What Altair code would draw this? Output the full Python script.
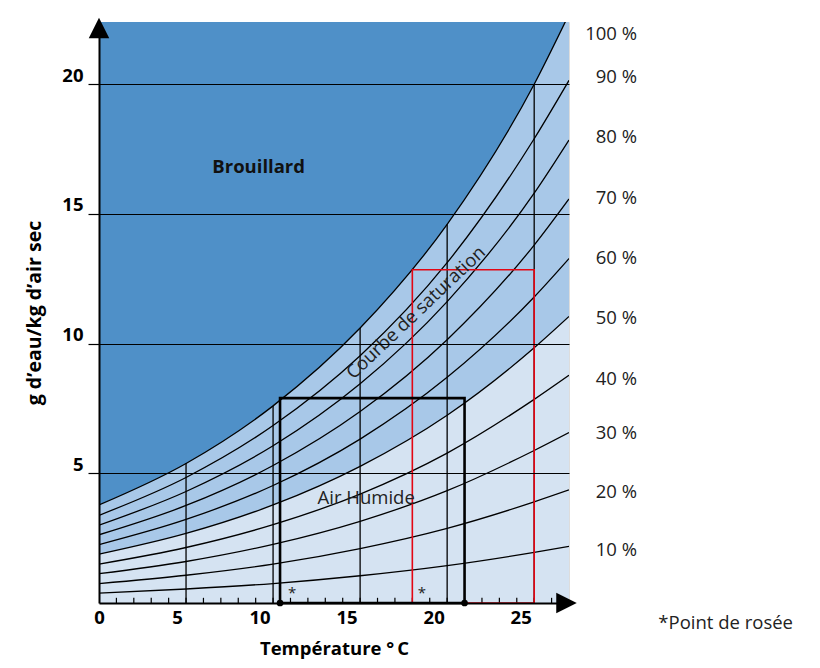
import altair as alt
import pandas as pd

# ---- data ----
temps = [0, 5, 10, 15, 20, 25, 27]
rh100 = [3.78, 5.38, 7.6, 10.6, 14.6, 20.0, 22.7]
rh90 = [3.38, 4.84, 6.84, 9.53, 13.12, 17.9, 20.15]
rh80 = [3.0, 4.3, 6.06, 8.45, 11.62, 15.8, 17.85]
rh70 = [2.63, 3.76, 5.3, 7.38, 10.15, 13.8, 15.58]
rh60 = [2.25, 3.22, 4.53, 6.32, 8.7, 11.8, 13.28]
rh50 = [1.88, 2.68, 3.78, 5.27, 7.24, 9.84, 11.05]
rh40 = [1.5, 2.14, 3.02, 4.2, 5.78, 7.85, 8.78]
rh30 = [1.13, 1.6, 2.26, 3.15, 4.33, 5.88, 6.57]
rh20 = [0.75, 1.07, 1.5, 2.1, 2.88, 3.9, 4.36]
rh10 = [0.38, 0.54, 0.75, 1.05, 1.44, 1.95, 2.18]

rh_levels = [100, 90, 80, 70, 60, 50, 40, 30, 20, 10]
rh_labels = ["100 %", "90 %", "80 %", "70 %", "60 %",
             "50 %", "40 %", "30 %", "20 %", "10 %"]
rh_label_y = [21.93, 20.27, 17.96, 15.6, 13.32, 11.0, 8.65, 6.56, 4.29, 2.05]

vert_t = [5, 10, 15, 20, 25]
vert_top = [5.4, 7.6, 10.6, 14.6, 20.0]

black_box = {"t0": 10.4, "t1": 21.0, "top": 7.9}
red_box = {"t0": 18.0, "t1": 25.0, "top": 12.85}
dew_dots_t = [10.4, 21.0]
stars_t = [11.1, 18.55]
stars_y = [0.38, 0.38]

minor_ticks = list(range(1, 27))
x_ticks = [0, 5, 10, 15, 20, 25]
y_ticks = [5, 10, 15, 20]
y_top = 22.4

DARK = "#4f90c8"
MED = "#a8c8e8"
LIGHT = "#d5e3f2"
FONT = "Open Sans"
FS = 18.5

# ---- tables ----
curves = dict(zip(rh_levels, [rh100, rh90, rh80, rh70, rh60, rh50, rh40, rh30, rh20, rh10]))
long_df = pd.DataFrame([{"T": t, "g": v, "rh": k}
                        for k, vals in curves.items() for t, v in zip(temps, vals)])
wide_df = pd.DataFrame({"T": temps, "r100": rh100, "r50": rh50})
vert_df = pd.DataFrame({"T": vert_t, "top": vert_top})
box_df = pd.DataFrame([black_box])
red_df = pd.DataFrame([red_box])
dots_df = pd.DataFrame({"T": dew_dots_t})
stars_df = pd.DataFrame({"T": stars_t, "g": stars_y})
ticks_df = pd.DataFrame({"T": minor_ticks})
lab_df = pd.DataFrame({"lab": rh_labels, "g": rh_label_y})
one = pd.DataFrame({"a": [0]})

xs = alt.Scale(domain=[0, 27], nice=False, zero=False)
ys = alt.Scale(domain=[0, y_top], nice=False, zero=False)

xaxis = alt.Axis(values=x_ticks, title="Température °\u2009C", ticks=False, grid=False,
                 domainColor="black", domainWidth=2, labelFontSize=FS, labelFontWeight="bold",
                 labelColor="black", labelFlush=False, labelOverlap=False, labelPadding=5,
                 labelOffset={"condition": [{"test": "datum.value == 0", "value": 0},
                                            {"test": "datum.value == 5", "value": -9}],
                              "value": -13.5},
                 titleFontSize=FS, titleFontWeight="bold", titleColor="black", titlePadding=13,
                 zindex=1)
yaxis = alt.Axis(values=y_ticks, title="g d’eau/kg d’air sec", grid=True, gridColor="black",
                 gridWidth=1.2, gridOpacity=1, tickSize=11, tickColor="black", tickWidth=1.2,
                 domainColor="black", domainWidth=2, labelFontSize=FS, labelFontWeight="bold",
                 labelColor="black", labelFlush=False, labelPadding=5,
                 labelBaseline="alphabetic", labelOffset=-3,
                 titleFontSize=19.5, titleFontWeight="bold", titleColor="black", titlePadding=17,
                 zindex=1)


def X(f):
    return alt.X(f, type="quantitative", scale=xs, axis=xaxis)


def Y(f):
    return alt.Y(f, type="quantitative", scale=ys, axis=yaxis)


light = alt.Chart(wide_df).mark_area(color=LIGHT, interpolate="monotone", clip=True).encode(
    x=X("T"), y=Y("r50"), y2=alt.datum(0),
)
medium = alt.Chart(wide_df).mark_area(color=MED, interpolate="monotone", clip=True).encode(
    x=X("T"), y=Y("r100"), y2="r50:Q",
)
dark = alt.Chart(wide_df).mark_area(color=DARK, interpolate="monotone", clip=True).encode(
    x=X("T"), y=Y("r100"), y2=alt.datum(y_top),
)
lines = alt.Chart(long_df).mark_line(color="black", strokeWidth=1.3, interpolate="monotone",
                                     clip=True).encode(
    x=X("T"), y=Y("g"), detail="rh:N",
)
verts = alt.Chart(vert_df).mark_rule(color="black", strokeWidth=1.3).encode(
    x=X("T"), y=Y("top"), y2=alt.datum(0),
)
minor = alt.Chart(ticks_df).mark_rule(color="black", strokeWidth=1.2).encode(
    x=X("T"), y=alt.datum(0), y2=alt.datum(0.2),
)
redrect = alt.Chart(red_df).mark_rect(fillOpacity=0, stroke="#e30613", strokeWidth=1.6).encode(
    x=X("t0"), x2="t1:Q", y=Y("top"), y2=alt.datum(0),
)
blackrect = alt.Chart(box_df).mark_rect(fillOpacity=0, stroke="black", strokeWidth=2.6).encode(
    x=X("t0"), x2="t1:Q", y=Y("top"), y2=alt.datum(0),
)
dots = alt.Chart(dots_df).mark_circle(color="black", size=45, opacity=1).encode(
    x=X("T"), y=alt.datum(0),
)
stars = alt.Chart(stars_df).mark_text(text="*", font=FONT, fontSize=15, color="#222").encode(
    x=X("T"), y=Y("g"),
)
up_arrow = alt.Chart(one).mark_point(shape="M0,-1L1,1L-1,1Z", size=420, filled=True,
                                     color="black", opacity=1).encode(
    x=alt.datum(0), y=alt.value(6))
right_arrow = alt.Chart(one).mark_point(shape="M1,0L-1,1L-1,-1Z", size=420, filled=True,
                                        color="black", opacity=1).encode(
    x=alt.value(467.5), y=alt.datum(0))

brouillard = alt.Chart(one).mark_text(text="Brouillard", font=FONT, fontSize=FS,
                                      fontWeight="bold", color="#111").encode(
    x=alt.datum(9.17), y=alt.datum(16.8))
humide = alt.Chart(one).mark_text(text="Air Humide", font=FONT, fontSize=FS,
                                  color="#222").encode(
    x=alt.datum(15.35), y=alt.datum(4.05))
courbe = alt.Chart(one).mark_text(text="Courbe de saturation", font=FONT, fontSize=FS,
                                  angle=316.5, color="#222").encode(
    x=alt.datum(18.2), y=alt.datum(11.2))
pct = alt.Chart(lab_df).mark_text(font=FONT, fontSize=FS, align="right", color="#222").encode(
    x=alt.value(538), y=Y("g"), text="lab:N",
)
rosee = alt.Chart(one).mark_text(text="*Point de rosée", font=FONT, fontSize=FS,
                                 align="right", color="#222").encode(
    x=alt.value(694), y=alt.value(601))

chart = alt.layer(
    light, medium, dark, lines, verts, minor, redrect, blackrect, dots, stars,
    up_arrow, right_arrow, brouillard, humide, courbe, pct, rosee,
).properties(
    width=470, height=581,
    padding={"left": 91, "top": 14, "right": 230, "bottom": 57},
    autosize=alt.AutoSizeParams(type="none"),
    background="white",
).configure_view(strokeWidth=0).configure(font=FONT)

chart.save("out.html", embed_options={"renderer": "svg", "actions": False})
